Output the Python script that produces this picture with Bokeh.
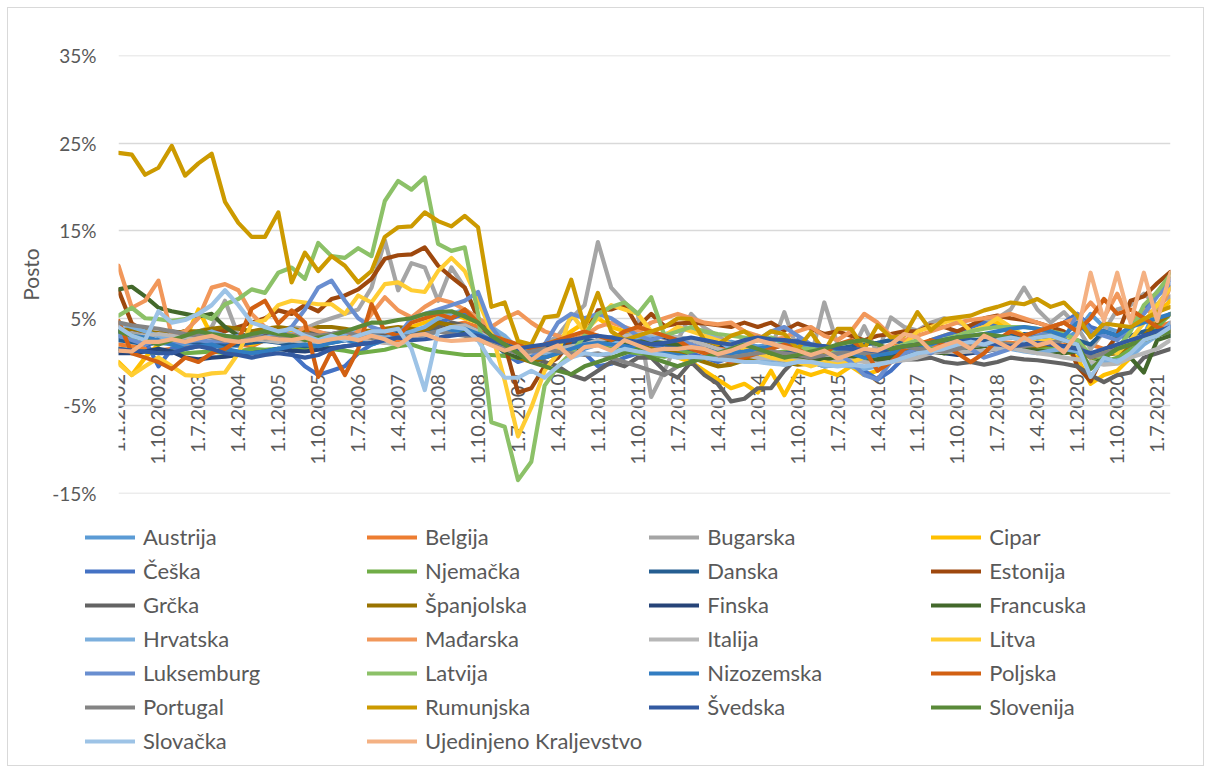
import math
from bokeh.plotting import figure
from bokeh.layouts import column
from bokeh.models import (Range1d, FixedTicker, PrintfTickFormatter, Legend, LegendItem,
                          LinearAxis)
from bokeh.embed import file_html
from bokeh.resources import INLINE

# ---------------- data ----------------
quarters = [f"1.{m}.{y}" for y in range(2002, 2022) for m in (1, 4, 7, 10)]
tick_labels = quarters[::3]
y_ticks = [-15, -5, 5, 15, 25, 35]

countries = ["Austrija", "Belgija", "Bugarska", "Cipar", "Češka", "Njemačka", "Danska",
             "Estonija", "Grčka", "Španjolska", "Finska", "Francuska", "Hrvatska",
             "Mađarska", "Italija", "Litva", "Luksemburg", "Latvija", "Nizozemska",
             "Poljska", "Portugal", "Rumunjska", "Švedska", "Slovenija", "Slovačka",
             "Ujedinjeno Kraljevstvo"]

colors = ["#5B9BD5", "#ED7D31", "#A5A5A5", "#FFC000", "#4472C4", "#70AD47", "#255E91",
          "#9E480E", "#636363", "#997300", "#264478", "#43682B", "#7CAFDD",
          "#F1975A", "#B7B7B7", "#FFCD33", "#698ED0", "#8CC168", "#327DC2",
          "#D26012", "#848484", "#CC9A00", "#335AA1", "#5A8A39", "#9DC3E6",
          "#F4B183"]

austrija = [3.0, 2.8, 2.6, 2.2, 2.0, 1.9, 2.1, 2.3, 2.0, 1.8, 2.2, 2.5,
            2.4, 2.0, 2.2, 2.5, 2.3, 2.6, 2.8, 3.0, 2.8, 3.0, 3.2, 3.5,
            3.8, 3.5, 3.6, 3.4, 3.0, 2.2, 1.5, 1.8, 1.5, 1.6, 1.2, 1.5,
            2.0, 2.5, 2.8, 3.0, 3.2, 3.0, 2.8, 2.6, 2.5, 2.2, 2.3, 2.0,
            1.8, 1.9, 2.1, 2.0, 1.6, 1.8, 1.7, 1.5, 1.3, 1.2, 1.4, 1.6,
            1.5, 1.8, 1.7, 2.0, 2.2, 2.5, 2.6, 2.8, 3.0, 2.8, 2.6, 2.5,
            3.5, 5.5, 4.0, 3.5, 2.0, 3.0, 6.5, 8.5]
belgija = [2.0, 1.8, 1.5, 1.3, 1.5, 1.6, 1.8, 2.0, 2.2, 2.0, 1.8, 2.5,
           2.6, 2.5, 2.3, 2.6, 2.8, 3.0, 2.9, 2.5, 2.2, 2.5, 2.8, 3.2,
           3.8, 4.2, 4.5, 4.0, 3.0, 2.5, 1.5, 1.0, 0.5, 1.0, 1.5, 2.0,
           2.5, 2.8, 3.0, 3.2, 3.0, 2.8, 2.6, 2.5, 2.0, 1.8, 1.6, 1.5,
           1.2, 1.0, 0.8, 0.5, 0.3, 0.2, 0.5, 0.8, 1.2, 1.5, 1.8, 2.0,
           2.2, 2.0, 1.8, 1.9, 2.0, 2.2, 2.3, 2.2, 2.0, 2.1, 2.0, 1.9,
           2.3, 2.0, 1.5, 1.8, 2.0, 3.0, 4.0, 4.5]
bugarska = [4.0, 3.5, 3.0, 3.2, 3.0, 2.8, 3.5, 4.0, 7.0, 3.0, 2.5, 3.0,
            3.5, 4.0, 3.8, 4.5, 5.0, 5.5, 6.0, 8.5, 13.9, 8.2, 11.3, 10.8,
            7.0, 10.8, 8.5, 5.0, 3.0, 2.0, 1.5, 1.0, 2.0, 3.0, 5.0, 6.5,
            13.7, 8.5, 6.8, 5.5, -4.0, -1.0, 2.5, 5.5, 3.9, 3.0, 2.0, 2.5,
            3.0, 1.5, 5.7, 1.3, 0.5, 6.8, 2.0, 1.0, 4.1, 1.0, 5.1, 4.0,
            3.6, 4.5, 5.0, 4.5, 4.0, 4.5, 5.0, 6.0, 8.5, 6.0, 4.5, 5.7,
            4.0, 1.5, 3.5, 6.0, 6.5, 7.8, 6.5, 7.5]
cipar = [0.0, -1.5, 0.5, 2.0, 3.5, 2.5, 6.0, 3.0, 3.0, 2.5, 2.0, 2.5,
         3.0, 3.5, 3.0, 2.5, 3.0, 3.5, 3.0, 3.5, 3.0, 3.5, 4.0, 4.5,
         5.0, 5.5, 5.0, 4.5, 3.5, 2.5, 1.0, 1.5, 2.0, 2.5, 3.5, 4.5,
         5.0, 4.0, 3.5, 3.0, 2.0, 1.0, 0.5, 0.0, -1.0, -2.0, -3.0, -2.5,
         -3.5, -1.0, -3.8, -1.0, -1.5, -1.0, -1.5, -0.5, -1.5, -1.0, 0.5, 1.0,
         1.5, 2.5, 3.0, 3.5, 3.5, 4.0, 4.5, 3.5, 3.0, 2.5, 2.0, 1.5,
         0.5, -2.5, -1.5, -1.0, 0.5, 3.0, 5.5, 7.0]
ceska = [3.5, 3.0, 2.5, -0.5, 1.5, 1.5, 2.0, 1.8, 2.0, 2.5, 3.0, 3.0,
         2.5, 1.0, -0.5, -1.5, -1.0, -0.5, 1.0, 2.0, 2.5, 3.0, 3.2, 3.5,
         4.5, 5.0, 5.5, 5.0, 2.5, 1.0, 0.0, 0.5, 1.5, 2.5, 2.0, 1.0,
         -0.5, -0.2, 0.5, 1.0, 1.5, 2.0, 1.5, 1.0, 0.5, 0.0, 0.5, 1.0,
         1.5, 1.5, 2.0, 2.5, 2.0, 1.5, 1.0, 0.0, -1.0, -2.0, -1.0, 0.5,
         1.5, 2.5, 3.0, 3.5, 4.0, 4.5, 4.0, 3.5, 3.0, 3.5, 4.0, 4.5,
         5.5, 4.0, 3.5, 3.0, 4.0, 6.0, 8.0, 9.5]
njemacka = [1.5, 1.3, 1.2, 1.0, 1.2, 1.0, 1.1, 1.2, 1.0, 1.2, 1.5, 1.4,
            1.5, 1.4, 1.6, 1.8, 1.5, 1.3, 1.0, 1.2, 1.4, 1.8, 2.0, 1.5,
            1.2, 1.0, 0.8, 0.8, 0.8, 0.7, 0.5, 0.8, 1.0, 1.2, 1.5, 1.8,
            2.0, 1.5, 1.2, 1.0, 0.8, 0.6, 1.0, 1.2, 1.5, 1.3, 1.2, 1.0,
            0.8, 1.0, 1.2, 1.4, 1.2, 1.0, 0.8, 0.6, 0.5, 0.8, 1.0, 1.5,
            1.8, 1.5, 1.3, 1.5, 1.8, 2.0, 2.2, 2.0, 1.8, 1.6, 1.5, 1.8,
            1.5, 0.5, 0.0, 0.5, 1.5, 2.5, 4.0, 5.5]
danska = [2.5, 2.3, 2.0, 2.2, 2.5, 2.4, 2.2, 2.0, 1.8, 2.0, 2.2, 2.4,
          2.2, 2.0, 1.8, 2.0, 2.2, 2.5, 2.8, 3.0, 3.2, 3.4, 3.6, 3.8,
          3.5, 3.8, 4.0, 3.5, 2.5, 1.5, 1.0, 1.2, 1.5, 2.0, 2.2, 2.5,
          2.3, 2.0, 1.8, 2.0, 2.2, 2.0, 1.8, 1.5, 1.2, 1.0, 0.8, 0.5,
          0.6, 0.8, 1.0, 1.2, 1.0, 1.2, 1.5, 1.8, 2.0, 2.2, 2.5, 2.2,
          2.0, 2.2, 2.5, 2.3, 2.5, 2.6, 2.8, 3.0, 3.2, 3.0, 2.8, 2.5,
          2.5, 2.0, 3.5, 3.0, 3.0, 3.5, 3.5, 3.0]
estonija = [8.2, 4.4, 3.5, 3.0, 3.2, 3.5, 3.0, 3.8, 3.5, 4.0, 4.5, 5.0,
            5.9, 5.5, 6.5, 5.8, 7.2, 7.6, 8.3, 9.5, 11.8, 12.2, 12.3, 13.1,
            11.0, 9.7, 8.5, 5.0, 2.5, 2.0, -3.5, -3.0, -0.5, 0.5, 2.5, 3.0,
            5.9, 6.0, 6.6, 4.0, 5.5, 4.1, 4.4, 4.5, 4.4, 4.2, 4.0, 4.5,
            4.0, 4.5, 3.6, 4.4, 3.8, 3.2, 3.5, 3.0, 2.5, 3.0, 3.2, 3.5,
            3.5, 4.2, 4.0, 3.5, 4.2, 5.0, 5.3, 5.0, 4.8, 4.5, 4.0, 3.5,
            -0.5, -2.2, 1.0, 3.0, 7.0, 7.5, 9.0, 10.3]
grcka = [3.5, 3.8, 3.5, 3.2, 3.5, 3.3, 3.0, 3.2, 2.8, 3.0, 3.2, 3.3,
         3.0, 3.2, 3.5, 3.3, 3.2, 3.5, 3.0, 3.3, 3.0, 2.8, 3.0, 3.5,
         4.0, 4.5, 4.2, 3.5, 2.5, 1.5, 1.0, 0.5, 0.0, -0.5, -1.5, -2.0,
         -1.0, 0.0, -0.5, 0.5, 0.5, -1.0, -1.8, 0.0, -1.5, -2.5, -4.5, -4.2,
         -3.0, -3.0, -1.0, 0.5, 0.0, -0.5, -0.3, 0.0, 0.5, 0.0, 0.2, 0.3,
         0.3, 0.5, 0.0, -0.2, 0.0, -0.3, 0.0, 0.5, 0.3, 0.2, 0.0, -0.2,
         -0.5, -1.5, -2.3, -1.5, -1.2, 0.5, 1.0, 1.5]
spanjolska = [3.5, 3.8, 3.5, 3.3, 3.2, 3.5, 3.5, 3.8, 4.0, 3.8, 3.5, 3.8,
              4.0, 3.8, 3.5, 4.0, 4.0, 3.8, 3.5, 3.6, 3.8, 4.0, 3.8, 3.5,
              4.5, 4.2, 4.0, 3.5, 2.5, 1.5, 0.5, 0.0, 0.5, 1.0, 1.5, 1.8,
              2.0, 2.2, 2.5, 2.0, 1.5, 1.2, 1.0, 0.5, 0.0, -0.5, -0.3, 0.2,
              0.5, 0.2, 0.0, -0.3, -0.2, 0.0, 0.2, 0.5, 0.8, 1.0, 1.2, 1.3,
              1.5, 1.2, 1.0, 1.5, 1.8, 2.0, 1.8, 1.5, 1.5, 1.8, 2.0, 1.8,
              1.5, 0.5, 0.8, 1.0, 2.0, 3.0, 4.5, 5.5]
finska = [1.0, 1.0, 1.2, 1.5, 1.2, 0.5, 0.3, 0.5, 0.6, 0.8, 1.0, 1.2,
          1.5, 1.3, 1.2, 1.4, 1.6, 1.8, 2.0, 2.2, 2.5, 2.8, 3.0, 3.2,
          3.5, 3.8, 4.0, 3.5, 2.5, 1.5, 1.0, 1.2, 1.5, 1.6, 1.8, 2.0,
          2.5, 2.8, 3.0, 3.2, 3.0, 2.8, 2.6, 2.5, 2.2, 2.0, 1.8, 1.5,
          1.2, 1.0, 1.0, 0.8, 0.5, 0.3, 0.2, 0.3, 0.5, 0.6, 0.8, 1.0,
          1.0, 1.2, 1.0, 0.8, 1.0, 1.2, 1.5, 1.8, 2.0, 2.2, 2.0, 1.8,
          1.5, 1.0, 1.2, 1.5, 2.0, 3.0, 3.5, 4.0]
francuska = [8.3, 8.6, 7.5, 6.2, 5.8, 5.5, 5.2, 5.5, 4.0, 3.0, 2.5, 2.8,
             2.5, 2.6, 2.8, 2.5, 2.6, 2.8, 3.0, 2.8, 2.5, 2.8, 3.0, 3.2,
             3.5, 3.8, 3.5, 3.0, 2.0, 1.2, 0.5, 0.8, 1.0, 1.2, 1.5, 1.8,
             2.0, 2.2, 2.3, 2.4, 2.3, 2.2, 2.0, 1.8, 1.5, 1.2, 1.0, 0.8,
             0.6, 0.7, 0.5, 0.3, 0.2, 0.3, 0.5, 0.5, 0.4, 0.3, 0.5, 0.7,
             1.0, 1.2, 1.0, 1.3, 1.5, 1.8, 2.0, 1.8, 1.5, 1.3, 1.2, 1.0,
             1.2, -0.5, 0.5, 0.0, 0.5, -1.2, 2.5, 3.0]
hrvatska = [4.5, 4.0, 3.5, 3.0, 2.5, 2.8, 3.0, 3.5, 3.0, 2.8, 2.5, 2.8,
            3.0, 3.2, 3.0, 2.8, 3.0, 3.2, 3.5, 3.0, 2.8, 3.0, 3.5, 4.0,
            5.0, 5.5, 6.0, 5.0, 4.0, 3.0, 1.5, 1.0, 1.0, 1.2, 1.5, 2.0,
            2.2, 2.0, 2.5, 2.8, 3.0, 3.2, 3.5, 3.8, 3.5, 2.5, 1.5, 1.0,
            0.5, 0.0, -0.3, 0.0, 0.0, -0.5, -0.3, -0.5, -0.8, -0.5, 0.0, 0.5,
            1.0, 1.2, 1.5, 1.5, 1.8, 2.0, 1.8, 1.5, 1.2, 1.0, 1.3, 1.5,
            1.2, -0.5, 0.0, 0.2, 0.5, 2.0, 3.0, 4.5]
madarska = [11.0, 6.2, 7.0, 9.3, 3.0, 3.5, 5.0, 8.5, 8.9, 8.2, 5.5, 4.0,
            3.5, 3.0, 4.0, 3.5, 3.0, 2.5, 3.5, 5.5, 7.4, 5.9, 5.1, 6.3,
            7.2, 6.8, 6.0, 5.0, 4.0, 5.0, 5.7, 4.5, 3.5, 3.0, 2.5, 3.0,
            4.0, 4.5, 4.0, 3.5, 4.5, 5.0, 5.5, 5.0, 4.5, 4.3, 4.5, 3.5,
            3.0, 2.5, 2.8, 3.5, 4.0, 3.0, 2.5, 3.5, 5.5, 4.5, 3.0, 2.5,
            3.0, 3.5, 4.0, 4.5, 4.8, 5.0, 5.2, 5.5, 5.0, 4.5, 4.0, 4.5,
            5.0, 6.8, 5.1, 7.8, 4.7, 6.0, 5.5, 8.5]
italija = [3.0, 2.8, 3.0, 3.2, 3.0, 2.8, 3.0, 2.8, 2.5, 2.8, 2.6, 2.5,
           2.3, 2.5, 2.3, 2.2, 2.5, 2.7, 2.5, 2.3, 2.2, 2.0, 2.5, 3.0,
           3.5, 4.0, 4.2, 3.5, 2.5, 1.5, 1.0, 1.0, 1.2, 1.5, 1.8, 2.0,
           2.5, 2.8, 3.0, 3.2, 3.3, 3.0, 2.8, 2.5, 2.0, 1.5, 1.0, 0.8,
           0.5, 0.4, 0.2, 0.2, 0.0, -0.2, 0.1, 0.2, 0.0, -0.2, 0.0, 0.2,
           0.5, 1.0, 1.2, 1.1, 1.2, 1.3, 1.5, 1.6, 1.3, 1.0, 0.8, 0.5,
           0.3, 0.0, -0.3, -0.2, 0.5, 1.0, 1.5, 2.5]
litva = [-0.2, -1.5, -0.5, 0.5, -0.5, -1.5, -1.6, -1.3, -1.2, 1.0, 4.4, 4.8,
         6.5, 7.0, 6.8, 6.6, 6.6, 5.5, 7.6, 6.8, 8.9, 9.1, 8.2, 8.0,
         10.4, 11.9, 10.4, 7.0, 3.5, -2.1, -8.5, -5.2, -1.0, 1.0, 5.5, 3.5,
         5.0, 6.5, 6.0, 5.5, 3.5, 3.0, 4.0, 3.5, 3.0, 2.5, 2.0, 1.5,
         1.0, 0.5, 0.3, 0.0, -0.5, 0.0, -0.3, 0.0, 0.5, 1.0, 1.5, 2.0,
         3.5, 4.0, 4.5, 5.0, 3.5, 4.0, 5.0, 4.0, 3.0, 2.5, 2.5, 2.8,
         2.5, 0.5, 1.5, 1.0, 2.5, 4.5, 6.5, 8.5]
luksemburg = [3.0, 2.5, 2.0, 2.5, 2.0, 2.3, 2.5, 2.3, 2.5, 3.0, 2.8, 3.5,
              3.0, 4.0, 6.0, 8.5, 9.3, 7.0, 5.0, 4.0, 3.5, 3.0, 5.0, 5.5,
              6.0, 6.5, 7.0, 8.0, 4.0, 2.0, 1.0, 0.5, 2.0, 4.5, 5.5, 5.0,
              5.5, 5.0, 4.0, 3.0, 2.5, 3.0, 2.5, 2.0, 1.5, 1.0, 1.5, 2.0,
              2.5, 3.5, 4.0, 3.0, 2.0, 1.5, 1.0, 0.0, -1.5, -2.0, 0.0, 1.0,
              1.5, 1.0, 2.0, 2.5, 1.5, 0.5, 1.0, 1.5, 2.5, 3.0, 3.5, 2.5,
              5.5, 3.5, 3.0, 2.5, 4.0, 5.5, 7.5, 9.0]
latvija = [5.3, 6.2, 5.0, 4.9, 4.7, 4.9, 5.5, 4.9, 6.6, 7.2, 8.3, 7.9,
           10.2, 10.8, 9.5, 13.6, 12.1, 11.9, 13.0, 12.1, 18.4, 20.7, 19.7, 21.1,
           13.5, 12.7, 13.1, 5.5, -6.9, -7.4, -13.5, -11.4, -2.7, -0.5, 1.0, 3.0,
           5.5, 6.3, 6.8, 5.5, 7.4, 3.0, 3.5, 4.0, 3.5, 3.2, 3.0, 2.8,
           2.5, 2.8, 2.2, 1.5, 1.5, 1.3, 1.0, 1.5, 0.5, 0.8, 1.5, 2.0,
           2.5, 2.0, 2.6, 3.0, 3.5, 3.8, 4.0, 4.0, 4.0, 3.8, 3.5, 3.2,
           2.5, 0.8, 0.5, 1.5, 3.5, 6.5, 8.0, 10.0]
nizozemska = [3.5, 3.0, 2.8, 2.5, 2.0, 1.5, 1.8, 2.0, 1.5, 1.2, 1.0, 1.2,
              1.5, 1.8, 2.0, 1.8, 2.2, 2.5, 2.3, 2.0, 2.5, 2.8, 3.0, 3.2,
              3.5, 3.5, 3.8, 3.2, 2.5, 2.0, 1.0, 0.5, 0.5, 1.0, 1.5, 2.0,
              2.2, 2.0, 1.8, 1.5, 1.2, 1.0, 0.8, 0.5, 0.5, 0.8, 1.0, 1.2,
              1.5, 1.8, 2.0, 2.2, 2.0, 1.8, 1.5, 1.0, 0.5, 0.8, 1.0, 1.5,
              1.8, 2.0, 2.5, 2.8, 3.0, 3.2, 3.5, 3.8, 4.0, 3.8, 3.5, 3.0,
              4.5, 3.0, 3.5, 3.0, 4.0, 4.5, 5.0, 5.5]
poljska = [4.7, 1.0, 0.5, 0.0, -0.8, 0.5, 0.0, 1.0, 1.5, 2.5, 6.1, 7.0,
           4.4, 5.9, 4.5, -1.7, 1.3, -1.5, 1.5, 6.6, 3.5, 3.0, 4.5, 5.0,
           5.5, 5.0, 6.0, 4.5, 3.0, 2.5, 2.0, 1.5, 2.0, 2.5, 3.0, 3.5,
           3.0, 2.5, 3.5, 4.0, 3.5, 3.0, 2.5, 1.5, 1.0, 0.5, 0.0, 0.5,
           1.0, 1.5, 2.0, 1.5, 0.5, 1.0, 2.0, 2.5, 1.5, -1.0, 0.0, 1.5,
           2.0, 2.5, 2.0, 1.0, 0.0, 1.0, 2.5, 3.5, 3.0, 3.5, 4.0, 4.5,
           3.5, 5.0, 7.2, 5.5, 6.0, 5.0, 4.0, 3.5]
portugal = [4.5, 4.2, 4.0, 3.8, 3.5, 3.2, 3.0, 2.8, 2.5, 2.8, 3.0, 2.7,
            2.8, 3.0, 3.2, 3.0, 3.2, 3.5, 3.0, 2.8, 2.5, 2.8, 3.0, 3.2,
            3.5, 3.2, 3.0, 2.5, 2.0, 1.5, 1.0, 1.2, 1.5, 1.2, 1.0, 0.8,
            1.0, 0.5, 0.0, -0.5, -1.0, -1.5, -0.5, 0.0, 0.5, 0.8, 0.5, 0.8,
            1.0, 1.2, 1.0, 0.8, 0.5, 0.8, 1.0, 1.2, 1.0, 1.2, 1.5, 1.8,
            1.5, 1.3, 1.2, 1.5, 1.8, 2.0, 2.2, 2.0, 1.8, 2.0, 2.2, 2.5,
            2.0, 0.5, 1.0, 1.5, 2.0, 2.5, 3.0, 3.5]
rumunjska = [23.9, 23.7, 21.4, 22.2, 24.7, 21.3, 22.7, 23.8, 18.3, 15.9, 14.3, 14.3,
             17.1, 9.1, 12.5, 10.4, 12.1, 11.0, 9.1, 10.4, 14.3, 15.4, 15.5, 17.1,
             16.1, 15.5, 16.7, 15.4, 6.3, 6.8, 2.4, 2.0, 5.1, 5.3, 9.4, 4.0,
             7.9, 3.5, 2.5, 3.0, 3.5, 4.0, 5.0, 4.9, 2.5, 2.0, 3.0, 3.5,
             2.5, 3.5, 3.2, 1.5, 3.4, 1.2, 3.8, 3.8, 1.5, 4.2, 2.8, 3.0,
             5.7, 3.6, 4.9, 5.1, 5.3, 5.9, 6.3, 6.8, 6.6, 7.2, 6.3, 6.8,
             5.3, 2.8, 4.4, 4.2, 4.0, 4.9, 5.7, 6.3]
svedska = [1.5, 1.3, 1.2, 1.0, 1.0, 1.5, 1.8, 1.5, 1.0, 0.8, 0.5, 0.8,
           1.0, 0.8, 0.5, 0.8, 1.5, 1.8, 2.0, 2.2, 2.5, 2.8, 2.5, 2.6,
           2.8, 3.0, 3.2, 3.0, 2.5, 2.0, 1.5, 1.8, 2.0, 2.3, 2.5, 2.8,
           3.0, 2.8, 2.5, 2.3, 2.0, 2.2, 2.5, 2.8, 2.5, 2.2, 2.0, 2.5,
           2.8, 2.6, 2.5, 2.3, 2.0, 1.8, 1.6, 1.5, 1.4, 1.2, 1.5, 1.8,
           2.0, 2.2, 2.5, 2.8, 2.5, 2.2, 2.0, 1.8, 2.0, 2.2, 2.0, 1.8,
           1.5, 1.0, 1.5, 2.0, 2.5, 3.0, 3.5, 4.0]
slovenija = [3.5, 3.0, 2.5, 2.0, 2.5, 3.0, 3.5, 3.2, 3.0, 2.8, 3.2, 3.5,
             3.2, 3.0, 2.5, 2.8, 3.0, 3.5, 4.0, 4.5, 4.5, 4.8, 5.0, 5.5,
             5.7, 5.8, 5.2, 4.5, 3.0, 2.0, 1.0, 0.0, -0.5, -1.0, -1.4, -0.5,
             0.0, 0.5, 1.0, 1.5, 0.5, 0.0, -0.5, 0.0, 0.5, 1.0, 1.5, 2.0,
             1.5, 1.0, 0.5, 0.8, 1.2, 1.5, 2.0, 2.3, 2.5, 2.0, 1.5, 1.8,
             2.0, 2.2, 2.5, 2.8, 3.0, 3.2, 3.0, 2.8, 2.5, 2.8, 3.0, 2.5,
             2.0, -0.8, 0.5, 1.5, 2.0, 2.5, 3.0, 3.5]
slovacka = [4.0, 3.0, 2.5, 5.8, 4.5, 4.8, 5.5, 6.5, 8.2, 6.5, 4.5, 4.0,
            3.5, 3.8, 3.0, 2.5, 3.0, 2.5, 3.0, 3.5, 3.5, 3.8, 1.5, -3.2,
            3.5, 4.0, 3.8, 2.5, 0.0, -1.8, -1.8, -1.0, -1.8, -0.5, 0.5, 1.0,
            0.8, 1.0, 1.5, 1.2, 1.0, 0.8, 0.5, 0.6, 0.5, 0.3, 0.2, 0.0,
            0.0, -0.2, -0.3, 0.0, 0.0, -0.3, -0.5, -0.3, -0.5, -0.3, 0.0, 0.5,
            1.0, 1.2, 1.5, 2.0, 2.3, 2.0, 2.5, 2.8, 2.5, 2.8, 3.0, 2.5,
            2.0, -1.7, 0.5, 0.0, 1.0, 2.5, 3.0, 4.0]
ujedinjeno_kraljevstvo = [1.3, 1.2, 2.3, 2.3, 2.6, 2.3, 2.7, 3.0, 2.5, 2.3, 2.5, 2.8,
                          2.6, 2.5, 2.8, 2.3, 2.6, 2.8, 2.5, 3.0, 2.6, 1.9, 3.0, 3.2,
                          2.6, 2.4, 2.5, 2.6, 1.9, 1.3, 1.8, 0.2, 1.3, 1.9, 0.5, 1.7,
                          1.9, 1.3, 2.5, 1.9, 1.3, 1.5, 1.5, 1.7, 1.5, 0.9, 1.3, 1.9,
                          2.5, 2.1, 1.7, 1.3, 0.8, 1.3, 0.4, 0.9, 1.5, 1.3, 2.0, 3.2,
                          2.8, 1.3, 1.9, 2.4, 1.5, 3.0, 2.3, 1.5, 2.8, 1.9, 2.3, 1.1,
                          3.2, 10.2, 4.7, 10.2, 4.5, 10.2, 4.7, 10.2]

series = [austrija, belgija, bugarska, cipar, ceska, njemacka, danska, estonija,
          grcka, spanjolska, finska, francuska, hrvatska, madarska, italija, litva,
          luksemburg, latvija, nizozemska, poljska, portugal, rumunjska, svedska,
          slovenija, slovacka, ujedinjeno_kraljevstvo]

# ---------------- chart ----------------
FONT = "Lato"
TXT = "#595959"
LW = 4.2

p = figure(width=1197, height=500, output_backend="svg", toolbar_location=None,
           x_range=Range1d(0, 79), y_range=Range1d(-15.03, 35.03),
           x_axis_location=None, min_border_left=110, min_border_right=33,
           min_border_top=47, min_border_bottom=15)
p.outline_line_color = None
p.background_fill_color = "white"
p.border_fill_color = "white"

p.xgrid.visible = False
p.ygrid.ticker = FixedTicker(ticks=y_ticks)
p.ygrid.grid_line_color = "#D9D9D9"
p.ygrid.grid_line_width = 1.5
p.yaxis.ticker = FixedTicker(ticks=y_ticks)
p.yaxis.formatter = PrintfTickFormatter(format="%d%%")
p.yaxis.axis_line_color = None
p.yaxis.major_tick_line_color = None
p.yaxis.minor_tick_line_color = None
p.yaxis.major_tick_out = 0
p.yaxis.major_tick_in = 0
p.yaxis.major_label_standoff = 22
p.yaxis.major_label_text_font = FONT
p.yaxis.major_label_text_font_size = "19px"
p.yaxis.major_label_text_color = TXT
p.yaxis.axis_label = "Posto"
p.yaxis.axis_label_text_font = FONT
p.yaxis.axis_label_text_font_size = "21px"
p.yaxis.axis_label_text_font_style = "normal"
p.yaxis.axis_label_text_color = TXT
p.yaxis.axis_label_standoff = 6

# category axis crossing at zero, labels rotated and hanging below it
xaxis = LinearAxis(fixed_location=0, ticker=FixedTicker(ticks=list(range(0, 80, 3))),
                   major_label_overrides={i * 3: lab for i, lab in enumerate(tick_labels)},
                   major_label_orientation=math.pi / 2, axis_line_color=None,
                   major_tick_line_color=None, minor_tick_line_color=None,
                   major_tick_in=0, major_tick_out=0, major_label_standoff=12,
                   major_label_text_font=FONT, major_label_text_font_size="20px",
                   major_label_text_color=TXT, level="underlay")
p.add_layout(xaxis, "below")

xs = list(range(len(quarters)))
for col, vals in zip(colors, series):
    p.line(x=xs, y=vals, line_color=col, line_width=LW, line_join="round", line_cap="round")

# ---------------- legend strip ----------------
lg = figure(width=1197, height=257, output_backend="svg", toolbar_location=None,
            x_range=Range1d(0, 1), y_range=Range1d(0, 1),
            x_axis_location=None, y_axis_location=None,
            min_border_left=77, min_border_right=0,
            min_border_top=0, min_border_bottom=0)
lg.outline_line_color = None
lg.grid.visible = False

# let the legend strip keep its own (wider) frame instead of copying the chart's
legend_x = -33
if "frame_align" in lg.properties():
    lg.frame_align = False
    p.frame_align = False
    legend_x = 0

items = []
for name, col in zip(countries, colors):
    # one undrawable (NaN) point: the renderer only supplies the legend swatch
    r = lg.line(x=[float("nan")], y=[float("nan")], line_color=col, line_width=LW,
                line_cap="round")
    items.append(LegendItem(label=name, renderers=[r]))

legend = Legend(items=items, orientation="horizontal", ncols=4,
                location=(max(legend_x, 0), 11), glyph_width=50, glyph_height=24,
                label_height=24, label_width=217, label_standoff=8, spacing=7,
                padding=0, margin=0, border_line_color=None,
                background_fill_alpha=0, label_text_font=FONT,
                label_text_font_size="22px", label_text_color=TXT)
lg.add_layout(legend, "center")

page = column(p, lg, spacing=0)
page.styles = {"margin": "7px 0 0 7px", "border": "1px solid #D9D9D9", "width": "1197px"}

open("out.html", "w").write(file_html(page, INLINE))
